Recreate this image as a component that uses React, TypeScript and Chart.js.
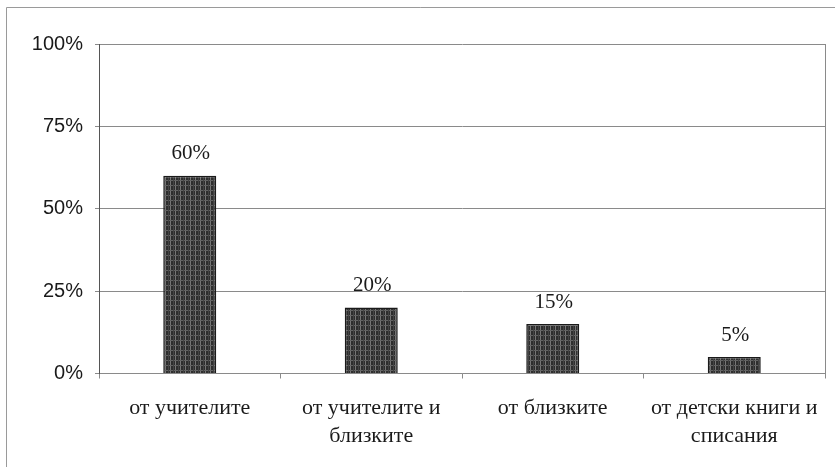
import React, { useEffect, useRef } from "react";
import { Chart, registerables } from "chart.js";

Chart.register(...registerables);

const categories: (string | string[])[] = [
  "от учителите",
  ["от учителите и", "близките"],
  "от близките",
  ["от детски книги и", "списания"],
];
const values: number[] = [60, 20, 15, 5];
const valueLabels: string[] = ["60%", "20%", "15%", "5%"];
const yTicks: number[] = [0, 25, 50, 75, 100];

function makePattern(): CanvasPattern | string {
  const c = document.createElement("canvas");
  c.width = 5;
  c.height = 5;
  const g = c.getContext("2d");
  if (!g) return "#444";
  g.fillStyle = "#2e2e2e";
  g.fillRect(0, 0, 5, 5);
  g.fillStyle = "#767676";
  g.fillRect(0, 0, 1, 5);
  g.fillStyle = "#626262";
  g.fillRect(0, 0, 5, 1);
  g.fillStyle = "#444444";
  g.fillRect(3, 0, 1, 5);
  const p = g.createPattern(c, "repeat");
  return p || "#444";
}

export default function App() {
  const ref = useRef<HTMLCanvasElement | null>(null);

  useEffect(() => {
    if (!ref.current) return;
    const decor = {
      id: "decor",
      beforeDraw(chart: any) {
        const ctx = chart.ctx;
        ctx.save();
        ctx.fillStyle = "#ffffff";
        ctx.fillRect(0, 0, chart.width, chart.height);
        ctx.strokeStyle = "#9a9a9a";
        ctx.lineWidth = 1;
        ctx.beginPath();
        ctx.moveTo(6.5, chart.height);
        ctx.lineTo(6.5, 7.5);
        ctx.lineTo(chart.width, 7.5);
        ctx.stroke();
        ctx.restore();
      },
      afterDatasetsDraw(chart: any) {
        const ctx = chart.ctx;
        const { chartArea } = chart;
        ctx.save();
        ctx.strokeStyle = "#8a8a8a";
        ctx.lineWidth = 1;
        ctx.beginPath();
        ctx.moveTo(Math.round(chartArea.right) + 0.5, chartArea.top);
        ctx.lineTo(Math.round(chartArea.right) + 0.5, chartArea.bottom);
        ctx.stroke();
        const meta = chart.getDatasetMeta(0);
        ctx.fillStyle = "#1a1a1a";
        ctx.font = "21px 'Liberation Serif', 'Times New Roman', serif";
        ctx.textAlign = "center";
        ctx.textBaseline = "middle";
        meta.data.forEach((bar: any, i: number) => {
          ctx.fillText(valueLabels[i], bar.x + 1, bar.y - 22);
        });
        ctx.restore();
      },
    };

    const chart = new Chart(ref.current, {
      type: "bar",
      data: {
        labels: categories,
        datasets: [
          {
            data: values,
            backgroundColor: makePattern() as any,
            borderColor: "#1a1a1a",
            borderWidth: 1.5,
            barPercentage: 0.292,
            categoryPercentage: 1,
          },
        ],
      },
      options: {
        animation: false,
        responsive: false,
        maintainAspectRatio: false,
        layout: { padding: { left: 0, right: 10, top: 44, bottom: 0 } },
        plugins: {
          legend: { display: false },
          tooltip: { enabled: false },
        },
        scales: {
          x: {
            grid: {
              display: true,
              drawOnChartArea: false,
              tickLength: 5,
              color: "#8a8a8a",
              offset: true,
            },
            border: { display: true, color: "#8a8a8a" },
            ticks: {
              color: "#1a1a1a",
              padding: 16,
              maxRotation: 0,
              autoSkip: false,
              font: {
                family: "'Liberation Serif', 'Times New Roman', serif",
                size: 22,
                lineHeight: "28px" as any,
              },
            },
            afterFit(scale: any) {
              scale.height = 467 - 373.5;
            },
          },
          y: {
            min: 0,
            max: 100,
            afterBuildTicks(scale: any) {
              scale.ticks = yTicks.map((v) => ({ value: v }));
            },
            grid: {
              color: "#8a8a8a",
              tickLength: 4,
            },
            border: { display: true, color: "#555555" },
            ticks: {
              color: "#1a1a1a",
              padding: 12,
              callback: (v: any) => v + "%",
              font: {
                family: "'Liberation Sans', Arial, sans-serif",
                size: 20,
              },
            },
            afterFit(scale: any) {
              scale.width = 99;
            },
          },
        },
      },
      plugins: [decor],
    });
    return () => chart.destroy();
  }, []);

  return (
    <div style={{ position: "fixed", left: 0, top: 0, width: 835, height: 467, background: "#fff" }}>
      <canvas ref={ref} width={835} height={467} style={{ width: 835, height: 467, display: "block" }} />
    </div>
  );
}
